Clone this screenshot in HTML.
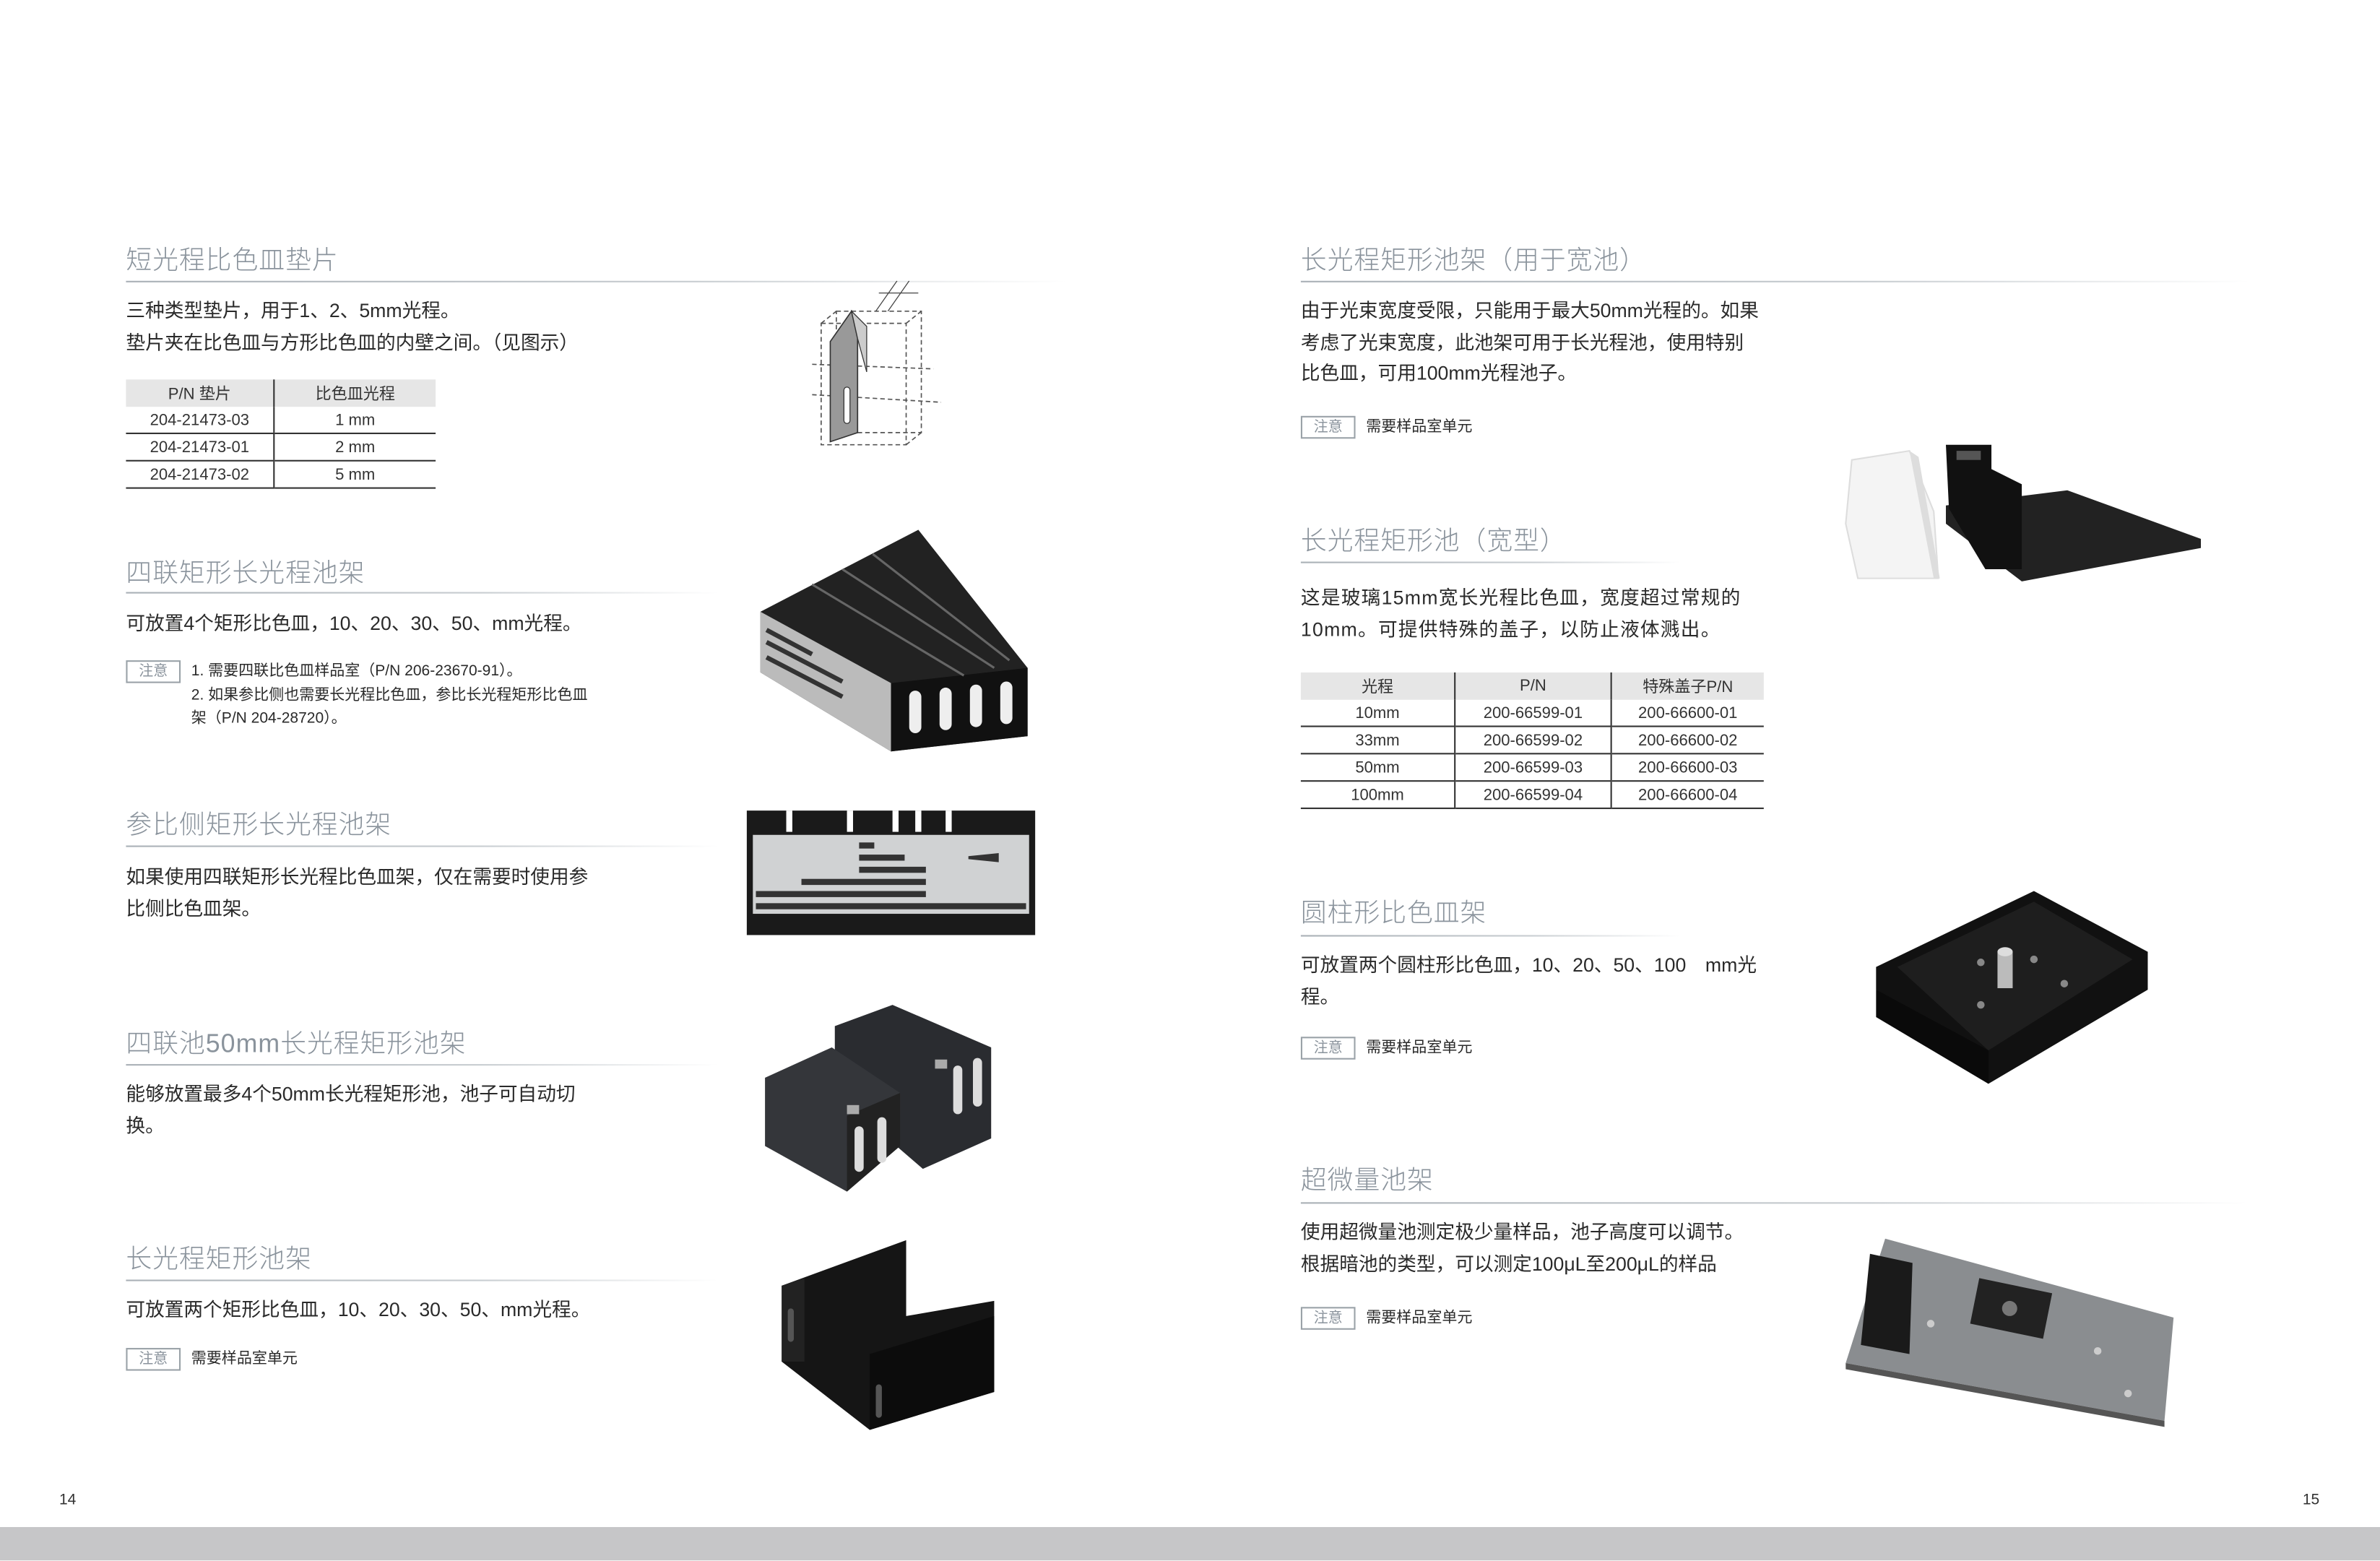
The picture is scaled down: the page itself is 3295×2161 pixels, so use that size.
<!DOCTYPE html>
<html><head><meta charset="utf-8">
<style>
html,body{margin:0;padding:0;background:#fff;}
body{width:3295px;height:2161px;overflow:hidden;position:relative;}
#p{position:absolute;left:0;top:0;width:1568px;height:1028px;transform:scale(2.1014);transform-origin:0 0;font-family:"Liberation Sans","Noto Sans CJK SC",sans-serif;color:#2a2a2a;}
.a{position:absolute;white-space:nowrap;}
.h{font-size:17px;color:#8a939c;font-weight:300;line-height:20px;letter-spacing:0.5px;}
.r{position:absolute;height:1.3px;background:linear-gradient(90deg,#a9b0b6,#c8cdd1 60%,rgba(230,232,234,0));}
.t{font-size:12.7px;line-height:20.5px;color:#2a2a2a;}
.n{position:absolute;width:34px;height:13px;border:1px solid #9aa2a8;font-size:9.5px;color:#8a939c;text-align:center;line-height:13px;}
.s{font-size:10px;color:#2a2a2a;}
table{position:absolute;border-collapse:collapse;font-size:10.5px;color:#333;}
td{text-align:center;height:17px;padding:0;border-bottom:1px solid #333;}
tr.hd td{background:#e6e6e6;border-bottom:none;}
td+td{border-left:1px solid #333;}
</style></head><body><div id="p">

<!-- LEFT -->
<div class="a h" style="left:83px;top:162px">短光程比色皿垫片</div>
<div class="r" style="left:83px;top:185px;width:620px"></div>
<div class="a t" style="left:83px;top:195px">三种类型垫片，用于1、2、5mm光程。<br>垫片夹在比色皿与方形比色皿的内壁之间。（见图示）</div>
<table style="left:83px;top:250px;width:204px">
<tr class="hd"><td style="width:97px;height:18px">P/N 垫片</td><td>比色皿光程</td></tr>
<tr><td>204-21473-03</td><td>1 mm</td></tr>
<tr><td>204-21473-01</td><td>2 mm</td></tr>
<tr><td>204-21473-02</td><td>5 mm</td></tr>
</table>
<svg class="a" style="left:535px;top:185px" width="110" height="120" viewBox="0 0 110 120">
<g fill="none" stroke="#555" stroke-width="0.8" stroke-dasharray="3,2">
<rect x="6" y="28" width="56" height="80"/><rect x="16" y="20" width="56" height="80"/>
<line x1="6" y1="28" x2="16" y2="20"/><line x1="62" y1="28" x2="72" y2="20"/><line x1="62" y1="108" x2="72" y2="100"/>
<line x1="0" y1="55" x2="80" y2="58"/><line x1="0" y1="75" x2="85" y2="80"/></g>
<polygon points="12,40 26,20 30,38 30,100 12,106" fill="#999" stroke="#333" stroke-width="0.8"/>
<polygon points="26,20 30,38 36,60 36,30" fill="#ccc" stroke="#333" stroke-width="0.6"/>
<rect x="21" y="70" width="4" height="24" rx="2" fill="#fff" stroke="#333" stroke-width="0.6"/>
<line x1="42" y1="20" x2="56" y2="0" stroke="#444" stroke-width="0.6"/><line x1="50" y1="20" x2="64" y2="0" stroke="#444" stroke-width="0.6"/>
<line x1="44" y1="8" x2="70" y2="8" stroke="#444" stroke-width="0.6"/>
</svg>

<div class="a h" style="left:83px;top:368px">四联矩形长光程池架</div>
<div class="r" style="left:83px;top:390px;width:390px"></div>
<div class="a t" style="left:83px;top:401px">可放置4个矩形比色皿，10、20、30、50、mm光程。</div>
<div class="n" style="left:83px;top:435px">注意</div>
<div class="a s" style="left:126px;top:435px;line-height:15.5px">1. 需要四联比色皿样品室（P/N 206-23670-91）。<br>2. 如果参比侧也需要长光程比色皿，参比长光程矩形比色皿<br>架（P/N 204-28720）。</div>
<svg class="a" style="left:495px;top:345px" width="190" height="155" viewBox="0 0 190 155">
<polygon points="6,58 110,4 182,95 182,140 92,150 6,98" fill="#222"/>
<polygon points="6,58 92,105 92,150 6,98" fill="#bbb"/>
<g stroke="#333" stroke-width="3"><line x1="10" y1="78" x2="60" y2="104"/><line x1="10" y1="88" x2="60" y2="114"/><line x1="10" y1="70" x2="40" y2="86"/></g>
<polygon points="92,105 182,95 182,140 92,150" fill="#111"/>
<g fill="#eee"><rect x="104" y="110" width="8" height="28" rx="4"/><rect x="124" y="108" width="8" height="28" rx="4"/><rect x="144" y="106" width="8" height="28" rx="4"/><rect x="164" y="104" width="8" height="28" rx="4"/></g>
<g stroke="#666" stroke-width="1.5" fill="none"><line x1="40" y1="40" x2="140" y2="100"/><line x1="60" y1="30" x2="160" y2="95"/><line x1="80" y1="20" x2="170" y2="90"/></g>
</svg>

<div class="a h" style="left:83px;top:534px">参比侧矩形长光程池架</div>
<div class="r" style="left:83px;top:557px;width:390px"></div>
<div class="a t" style="left:83px;top:568px">如果使用四联矩形长光程比色皿架，仅在需要时使用参<br>比侧比色皿架。</div>
<svg class="a" style="left:488px;top:530px" width="200" height="95" viewBox="0 0 200 95">
<rect x="4" y="4" width="190" height="82" fill="#1a1a1a"/>
<rect x="8" y="20" width="182" height="52" fill="#d0d2d3"/>
<g fill="#fff"><rect x="30" y="4" width="4" height="14"/><rect x="70" y="4" width="4" height="14"/><rect x="100" y="4" width="4" height="14"/><rect x="115" y="4" width="4" height="14"/><rect x="135" y="4" width="4" height="14"/></g>
<g fill="#333"><rect x="78" y="25" width="10" height="4"/><rect x="78" y="33" width="30" height="4"/><rect x="78" y="41" width="44" height="4"/><rect x="40" y="49" width="82" height="4"/><rect x="10" y="57" width="112" height="4"/><rect x="10" y="65" width="178" height="4"/><polygon points="150,34 170,32 170,38 150,36"/></g>
</svg>

<div class="a h" style="left:83px;top:678px">四联池50mm长光程矩形池架</div>
<div class="r" style="left:83px;top:701px;width:390px"></div>
<div class="a t" style="left:83px;top:711px">能够放置最多4个50mm长光程矩形池，池子可自动切<br>换。</div>
<svg class="a" style="left:498px;top:660px" width="160" height="130" viewBox="0 0 160 130">
<polygon points="52,16 90,2 155,30 155,90 110,110 52,60" fill="#2a2c30"/>
<polygon points="6,50 50,30 95,60 95,95 60,125 6,95" fill="#34363a"/>
<polygon points="60,75 95,60 95,95 60,125" fill="#222"/>
<g fill="#ddd"><rect x="65" y="82" width="6" height="30" rx="3"/><rect x="80" y="76" width="6" height="30" rx="3"/><rect x="130" y="42" width="6" height="32" rx="3"/><rect x="143" y="37" width="6" height="32" rx="3"/></g>
<rect x="60" y="68" width="8" height="6" fill="#aaa"/><rect x="118" y="38" width="8" height="6" fill="#aaa"/>
</svg>

<div class="a h" style="left:83px;top:820px">长光程矩形池架</div>
<div class="r" style="left:83px;top:843px;width:390px"></div>
<div class="a t" style="left:83px;top:853px">可放置两个矩形比色皿，10、20、30、50、mm光程。</div>
<div class="n" style="left:83px;top:888px">注意</div>
<div class="a s" style="left:126px;top:888px;line-height:15px">需要样品室单元</div>
<svg class="a" style="left:485px;top:812px" width="180" height="135" viewBox="0 0 180 135">
<polygon points="30,35 112,5 112,55 170,45 170,105 88,130 30,85" fill="#151515"/>
<polygon points="88,80 170,55 170,105 88,130" fill="#0c0c0c"/>
<polygon points="30,35 45,30 45,85 30,85" fill="#222"/>
<g fill="#555"><rect x="34" y="50" width="4" height="22" rx="2"/><rect x="92" y="100" width="4" height="22" rx="2"/></g>
</svg>

<div class="a" style="left:39px;top:983px;font-size:10px;color:#333">14</div>
<div class="a" style="left:1517px;top:983px;font-size:10px;color:#333">15</div>
<div class="a" style="left:0;top:1006px;width:1568px;height:22px;background:#c6c6c8"></div>

<!-- RIGHT -->
<div class="a h" style="left:857px;top:162px">长光程矩形池架（用于宽池）</div>
<div class="r" style="left:857px;top:185px;width:625px"></div>
<div class="a t" style="left:857px;top:195px">由于光束宽度受限，只能用于最大50mm光程的。如果<br>考虑了光束宽度，此池架可用于长光程池，使用特别<br>比色皿，可用100mm光程池子。</div>
<div class="n" style="left:857px;top:274px">注意</div>
<div class="a s" style="left:900px;top:274px;line-height:15px">需要样品室单元</div>
<svg class="a" style="left:1212px;top:285px" width="245" height="100" viewBox="0 0 245 100">
<polygon points="8,18 46,12 62,52 65,96 12,96 4,60" fill="#f4f4f4" stroke="#ddd"/>
<polygon points="46,12 52,16 66,96 62,96" fill="#ddd"/>
<polygon points="70,48 150,38 238,70 238,76 120,98 70,60" fill="#222"/>
<polygon points="70,8 100,8 100,24 120,34 120,90 96,90 72,50" fill="#111"/>
<rect x="77" y="12" width="16" height="6" fill="#555"/>
</svg>

<div class="a h" style="left:857px;top:347px">长光程矩形池（宽型）</div>
<div class="r" style="left:857px;top:370px;width:250px"></div>
<div class="a t" style="left:857px;top:384px;letter-spacing:0.6px">这是玻璃15mm宽长光程比色皿，宽度超过常规的<br>10mm。可提供特殊的盖子，以防止液体溅出。</div>
<table style="left:857px;top:443px;width:305px">
<tr class="hd"><td style="width:101px;height:18px">光程</td><td style="width:102px">P/N</td><td>特殊盖子P/N</td></tr>
<tr><td>10mm</td><td>200-66599-01</td><td>200-66600-01</td></tr>
<tr><td>33mm</td><td>200-66599-02</td><td>200-66600-02</td></tr>
<tr><td>50mm</td><td>200-66599-03</td><td>200-66600-03</td></tr>
<tr><td>100mm</td><td>200-66599-04</td><td>200-66600-04</td></tr>
</table>

<div class="a h" style="left:857px;top:592px">圆柱形比色皿架</div>
<div class="r" style="left:857px;top:616px;width:250px"></div>
<div class="a t" style="left:857px;top:626px">可放置两个圆柱形比色皿，10、20、50、100　mm光<br>程。</div>
<div class="n" style="left:857px;top:683px">注意</div>
<div class="a s" style="left:900px;top:683px;line-height:15px">需要样品室单元</div>
<svg class="a" style="left:1230px;top:582px" width="195" height="135" viewBox="0 0 195 135">
<polygon points="6,55 110,5 185,45 185,70 80,132 6,70" fill="#111"/>
<polygon points="20,55 110,12 175,50 80,110" fill="#1e1e1e"/>
<polygon points="6,70 80,110 80,132 6,88" fill="#0a0a0a"/>
<rect x="86" y="45" width="10" height="24" fill="#bbb"/><ellipse cx="91" cy="45" rx="5" ry="3" fill="#ddd"/>
<g fill="#888"><circle cx="75" cy="52" r="2.5"/><circle cx="110" cy="50" r="2.5"/><circle cx="75" cy="80" r="2.5"/><circle cx="130" cy="66" r="2.5"/></g>
</svg>

<div class="a h" style="left:857px;top:768px">超微量池架</div>
<div class="r" style="left:857px;top:792px;width:625px"></div>
<div class="a t" style="left:857px;top:802px">使用超微量池测定极少量样品，池子高度可以调节。<br>根据暗池的类型，可以测定100μL至200μL的样品</div>
<div class="n" style="left:857px;top:861px">注意</div>
<div class="a s" style="left:900px;top:861px;line-height:15px">需要样品室单元</div>
<svg class="a" style="left:1212px;top:812px" width="225" height="130" viewBox="0 0 225 130">
<polygon points="30,4 220,56 214,124 4,86" fill="#8a8d90"/>
<polygon points="4,86 214,124 214,128 4,90" fill="#555"/>
<polygon points="20,14 48,20 46,80 14,74" fill="#1a1a1a"/>
<polygon points="92,30 140,40 134,70 86,60" fill="#222"/>
<circle cx="112" cy="50" r="5" fill="#777"/>
<g fill="#ccc"><circle cx="60" cy="60" r="2.5"/><circle cx="170" cy="78" r="2.5"/><circle cx="190" cy="106" r="2.5"/></g>
</svg>

</div></body></html>
